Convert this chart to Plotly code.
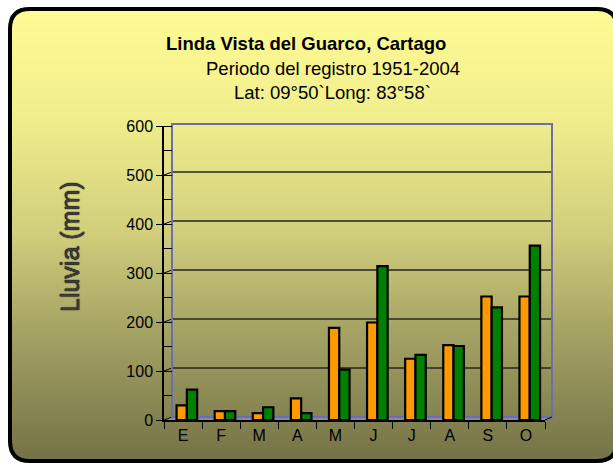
import plotly.graph_objects as go
import math

# ---------------- data ----------------
months = ["E", "F", "M", "A", "M", "J", "J", "A", "S", "O"]
serie_naranja = [30, 18, 14, 44, 188, 199, 125, 153, 252, 252]
serie_verde = [62, 18, 26, 14, 103, 314, 133, 151, 230, 356]
y_ticks = [0, 100, 200, 300, 400, 500, 600]

title1 = "Linda Vista del Guarco, Cartago"
title2 = "Periodo del registro 1951-2004"
title3 = "Lat: 09°50`Long: 83°58`"
ytitle = "Lluvia (mm)"

# ---------------- geometry ----------------
W, H = 613, 464
ML, MR, MT, MB = 164, 68, 126, 44
PW = W - ML - MR
PH = H - MT - MB


def px(x):
    return (x - ML) / PW


def py(y):
    return (H - MB - y) / PH


FONT = "Liberation Sans, Arial, sans-serif"
idx = list(range(len(months)))

fig = go.Figure()
fig.add_trace(go.Bar(
    x=idx, y=serie_naranja, width=0.27, offset=-0.17,
    marker=dict(color="#FF9900", line=dict(color="black", width=2.2)),
    showlegend=False, hoverinfo="y"))
fig.add_trace(go.Bar(
    x=idx, y=serie_verde, width=0.27, offset=0.10,
    marker=dict(color="#008000", line=dict(color="black", width=2.2)),
    showlegend=False, hoverinfo="y"))

shapes = []

# gradient background inside rounded frame
FX0, FX1, FY0, FY1, R = 10, 617, 9, 461, 20
stops = [(9, (255, 252, 150)), (120, (240, 237, 140)), (230, (210, 207, 125)),
         (330, (165, 163, 100)), (461, (116, 114, 70))]


def col_at(y):
    for (ya, ca), (yb, cb) in zip(stops[:-1], stops[1:]):
        if ya <= y <= yb:
            t = (y - ya) / (yb - ya)
            c = [round(a + (b - a) * t) for a, b in zip(ca, cb)]
            return "rgb(%d,%d,%d)" % tuple(c)
    return "rgb(%d,%d,%d)" % stops[-1][1]


step = 2
y = FY0
while y < FY1:
    yc = y + step / 2
    inset = 0
    if yc < FY0 + R:
        dy = FY0 + R - yc
        inset = R - math.sqrt(max(R * R - dy * dy, 0))
    elif yc > FY1 - R:
        dy = yc - (FY1 - R)
        inset = R - math.sqrt(max(R * R - dy * dy, 0))
    shapes.append(dict(type="rect", xref="paper", yref="paper", layer="below",
                       x0=px(FX0 + inset), x1=px(FX1 - inset),
                       y0=py(y), y1=py(min(y + step + 0.6, FY1)),
                       line=dict(width=0), fillcolor=col_at(yc)))
    y += step


def P(x, y):
    return "%f,%f" % (px(x), py(y))


# frame with rounded corners
frame_path = ("M " + P(FX0 + R, FY0) + " L " + P(FX1 - R, FY0) +
              " Q " + P(FX1, FY0) + " " + P(FX1, FY0 + R) +
              " L " + P(FX1, FY1 - R) +
              " Q " + P(FX1, FY1) + " " + P(FX1 - R, FY1) +
              " L " + P(FX0 + R, FY1) +
              " Q " + P(FX0, FY1) + " " + P(FX0, FY1 - R) +
              " L " + P(FX0, FY0 + R) +
              " Q " + P(FX0, FY0) + " " + P(FX0 + R, FY0) + " Z")
shapes.append(dict(type="path", xref="paper", yref="paper", layer="below",
                   path=frame_path, line=dict(color="black", width=4)))

# 3D floor
floor_path = ("M " + P(164, 420) + " L " + P(545, 420) + " L " + P(552, 417) +
              " L " + P(172, 417) + " Z")
shapes.append(dict(type="path", xref="paper", yref="paper", layer="below",
                   path=floor_path, fillcolor="#8686AE", line=dict(width=0)))

# back wall gridlines (shifted back)
for v in y_ticks[1:-1]:
    shapes.append(dict(type="line", xref="paper", yref="y", layer="below",
                       x0=px(172), x1=px(552), ysizemode="pixel", yanchor=v,
                       y0=3, y1=3, line=dict(color="#26261c", width=1.4)))
# depth diagonals at major ticks
for v in y_ticks[:-1]:
    shapes.append(dict(type="line", xref="paper", yref="y", layer="below",
                       x0=px(164), x1=px(172), ysizemode="pixel", yanchor=v,
                       y0=0, y1=3, line=dict(color="black", width=1)))
# back wall border
shapes.append(dict(type="rect", xref="paper", yref="paper", layer="below",
                   x0=px(172), x1=px(552), y0=py(417), y1=py(124),
                   line=dict(color="#6E6EAA", width=2)))
shapes.append(dict(type="line", xref="paper", yref="paper", layer="below",
                   x0=px(545), x1=px(552), y0=py(420), y1=py(417),
                   line=dict(color="black", width=1)))

annotations = [
    dict(text="<b>" + title1 + "</b>", x=px(305.5), y=py(44), xref="paper", yref="paper",
         showarrow=False, xanchor="center", yanchor="middle",
         font=dict(family=FONT, size=18.5, color="black")),
    dict(text=title2, x=px(332.5), y=py(69), xref="paper", yref="paper",
         showarrow=False, xanchor="center", yanchor="middle",
         font=dict(family=FONT, size=18.5, color="black")),
    dict(text=title3, x=px(332.5), y=py(92), xref="paper", yref="paper",
         showarrow=False, xanchor="center", yanchor="middle",
         font=dict(family=FONT, size=18.5, color="black")),
    dict(text=ytitle, x=px(70), y=py(247), xref="paper", yref="paper",
         showarrow=False, xanchor="center", yanchor="middle", textangle=-90,
         font=dict(family=FONT, size=25, color="#3c3c3c",
                   shadow="0px 0px 1px #000, 0px 0px 1px #000")),
]

fig.update_layout(
    width=W, height=H,
    margin=dict(l=ML, r=MR, t=MT, b=MB, pad=0),
    paper_bgcolor="white", plot_bgcolor="rgba(0,0,0,0)",
    barmode="overlay",
    shapes=shapes, annotations=annotations,
    xaxis=dict(range=[-0.5, len(months) - 0.5], tickmode="array", tickvals=idx,
               ticktext=months, ticks="", showgrid=False, zeroline=False,
               showline=True, linecolor="black", linewidth=1.5,
               tickfont=dict(family=FONT, size=16, color="black"),
               minor=dict(tickmode="array",
                          tickvals=[i - 0.5 for i in range(len(months) + 1)],
                          ticks="outside", ticklen=7, tickcolor="black",
                          tickwidth=1.2, showgrid=False)),
    yaxis=dict(range=[0, 600], tickmode="array", tickvals=y_ticks,
               ticks="outside", ticklen=6, tickcolor="black", tickwidth=1.2,
               showgrid=False, zeroline=False, showline=True, linecolor="black",
               linewidth=1.5, tickfont=dict(family=FONT, size=16, color="black"),
               minor=dict(tickmode="linear", tick0=0, dtick=50, ticks="inside",
                          ticklen=8, tickcolor="black", tickwidth=1,
                          showgrid=False)),
    font=dict(family=FONT),
)

fig.write_html("out.html",
               config={"displayModeBar": False},
               post_script="document.body.style.margin='0px';"
                           "document.body.style.padding='0px';"
                           "document.body.style.overflow='hidden';")
